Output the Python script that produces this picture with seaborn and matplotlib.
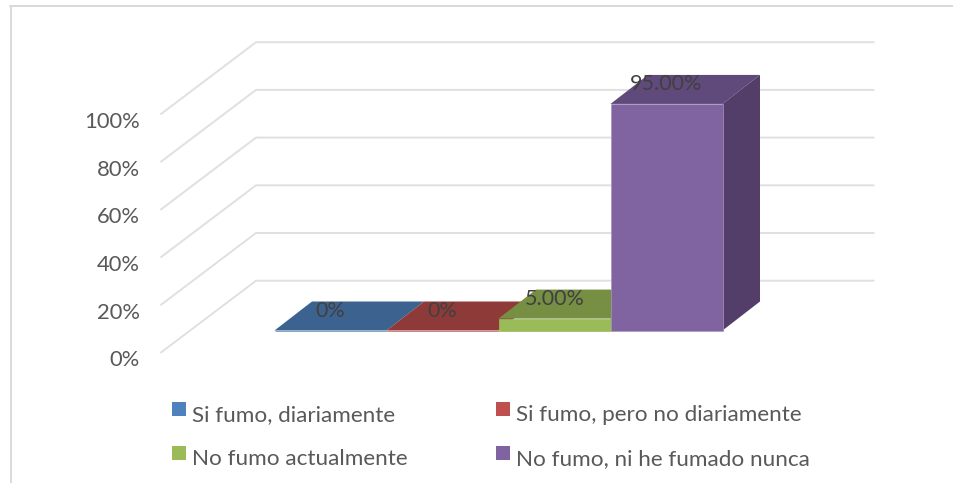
import matplotlib

matplotlib.use("Agg")
import matplotlib.pyplot as plt
import pandas as pd
import seaborn as sns
from matplotlib.lines import Line2D
from matplotlib.patches import Polygon

categories = [
    "Si fumo, diariamente",
    "Si fumo, pero no diariamente",
    "No fumo actualmente",
    "No fumo, ni he fumado nunca",
]
values = [0, 0, 5, 95]
value_labels = ["0%", "0%", "5.00%", "95.00%"]
tick_values = [0, 20, 40, 60, 80, 100]
tick_labels = ["0%", "20%", "40%", "60%", "80%", "100%"]

front_colors = ["#4f81bd", "#c0504d", "#9bbb59", "#8064a2"]
top_colors = ["#3c638f", "#8e3a38", "#768f43", "#604a7b"]
side_colors = ["#33547a", "#7a3230", "#637a39", "#523e68"]

GRID = "#e0e0e0"
WIDTH, HEIGHT = 954, 483
# one category is 112 px, 100% is 238.5 px
PX_X, PX_Y = 112.0, 2.385
BASE_X, BASE_Y = 330.5, 330.5


def dx(px):
    return px / PX_X


def dy(px):
    return px / PX_Y


sns.set_theme(style="white")
plt.rcParams["font.family"] = ["Lato", "DejaVu Sans"]

frame = pd.DataFrame({"categoria": categories, "valor": values})
fig, ax = plt.subplots(figsize=(WIDTH / 100, HEIGHT / 100), dpi=100)
ax.set_position([0, 0, 1, 1])
sns.barplot(
    data=frame,
    x="categoria",
    y="valor",
    hue="categoria",
    palette=front_colors,
    saturation=1,
    width=1,
    dodge=False,
    legend=False,
    zorder=3,
    ax=ax,
)
ax.set_xlim(dx(-BASE_X), dx(WIDTH - BASE_X))
ax.set_ylim(dy(BASE_Y - HEIGHT), dy(BASE_Y))
ax.axis("off")

# back wall and floor-to-wall diagonals
front_x, back_x, right_x = dx(161 - BASE_X), dx(256 - BASE_X), dx(873.7 - BASE_X)
front_y, back_y = dy(-22), dy(49.8)
for tick in tick_values:
    ax.plot(
        [front_x, back_x, right_x],
        [tick + front_y, tick + back_y, tick + back_y],
        color=GRID,
        lw=1.4,
        zorder=1,
    )

# fake depth on every bar, left to right so the later ones overlap
depth_x, depth_y = dx(37.5), dy(29)
for i, container in enumerate(ax.containers):
    bar = container.patches[0]
    x0, x1 = bar.get_x(), bar.get_x() + bar.get_width()
    top = bar.get_height()
    bar.set_edgecolor("#a797bd" if i == 3 else front_colors[i])
    bar.set_linewidth(0.5)
    ax.add_patch(
        Polygon(
            [(x0, top), (x1, top), (x1 + depth_x, top + depth_y), (x0 + depth_x, top + depth_y)],
            facecolor=top_colors[i],
            edgecolor="none",
            zorder=2.2 + i * 0.1,
        )
    )
    ax.add_patch(
        Polygon(
            [(x1, 0), (x1, top), (x1 + depth_x, top + depth_y), (x1 + depth_x, depth_y)],
            facecolor=side_colors[i],
            edgecolor="none",
            zorder=2.2 + i * 0.1,
        )
    )
    ax.annotate(
        value_labels[i],
        (i, top),
        xytext=(0, 19.5),
        textcoords="offset pixels",
        ha="center",
        va="center",
        fontsize=15.5,
        color="#404040",
        zorder=5,
    )

for tick, label in zip(tick_values, tick_labels):
    ax.text(
        dx(140 - BASE_X),
        tick + dy(-30),
        label,
        ha="right",
        va="center",
        fontsize=15.8,
        color="#595959",
    )

order = [0, 2, 1, 3]
legend_handles = [
    plt.Rectangle((0, 0), 1, 1, facecolor=front_colors[k], edgecolor="none") for k in order
]
legend = ax.legend(
    legend_handles,
    [categories[k] for k in order],
    ncols=2,
    loc="upper left",
    bbox_to_anchor=(172 / WIDTH, 1 - 405 / HEIGHT),
    bbox_transform=fig.transFigure,
    frameon=False,
    fontsize=16.2,
    labelcolor="#595959",
    handlelength=0.63,
    handleheight=0.6,
    handletextpad=0.27,
    columnspacing=3.9,
    labelspacing=1.05,
    borderpad=0,
    borderaxespad=0,
)
# squares sit a little above the text centre
for patch in legend.legend_handles:
    patch.set_y(patch.get_y() + 2.9)

# chart frame from the pasted picture
for xs, ys in [((10.5, WIDTH), (6, 6)), ((11, 11), (6, HEIGHT))]:
    fig.add_artist(
        Line2D(
            [x / WIDTH for x in xs],
            [1 - y / HEIGHT for y in ys],
            color="#d9d9d9",
            lw=1.4,
            transform=fig.transFigure,
        )
    )

fig.savefig("out.png", dpi=100)
